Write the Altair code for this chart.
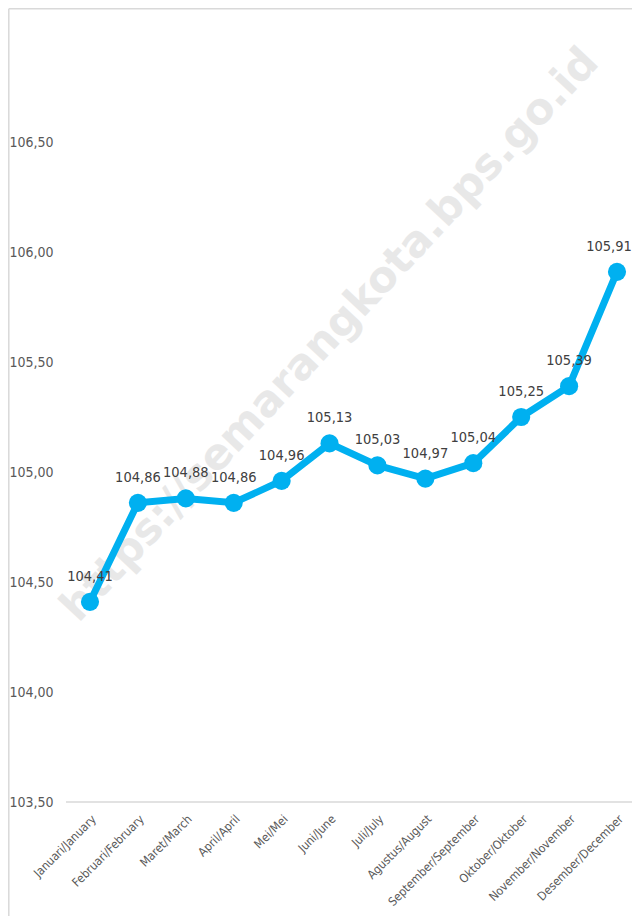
import altair as alt
import pandas as pd

months = ["Januari/January", "Februari/February", "Maret/March", "April/April",
          "Mei/Mei", "Juni/June", "Juli/July", "Agustus/August",
          "September/September", "Oktober/Oktober", "November/November",
          "Desember/December"]
values = [104.41, 104.86, 104.88, 104.86, 104.96, 105.13, 105.03, 104.97,
          105.04, 105.25, 105.39, 105.91]
y_ticks = [103.5, 104.0, 104.5, 105.0, 105.5, 106.0, 106.5]
watermark = "https://semarangkota.bps.go.id"

df = pd.DataFrame({"month": months, "value": values})
df["label"] = [f"{v:.2f}".replace(".", ",") for v in values]
df["last"] = [m == months[-1] for m in months]

FONT = "DejaVu Sans Condensed, DejaVu Sans, sans-serif"
BLUE = "#00B0F0"

x_enc = alt.X("month:N", sort=months, title=None,
              scale=alt.Scale(type="point", range=[24, 551], padding=0),
              axis=alt.Axis(labelAngle=-45, labelFont=FONT, labelFontSize=12,
                            labelColor="#595959", ticks=False, domain=False,
                            labelPadding=11, labelAlign="right",
                            labelBaseline="top"))
y_enc = alt.Y("value:Q", title=None,
              scale=alt.Scale(domain=[103.5, 107.0], nice=False, zero=False),
              axis=alt.Axis(values=y_ticks, grid=False, domain=False,
                            ticks=False, tickSize=0, labelAlign="left",
                            labelPadding=57, labelFont=FONT, labelFontSize=14,
                            labelColor="#595959",
                            labelExpr="replace(format(datum.value, '.2f'), '.', ',')"))

base = alt.Chart(df)

wm = alt.Chart(pd.DataFrame({"t": [watermark]})).mark_text(
    font="DejaVu Sans", fontWeight="bold", fontSize=43, angle=313,
    color="#C8C8C8", opacity=0.4, align="center", baseline="middle"
).encode(text="t:N", x=alt.value(264), y=alt.value(303))

baseline = alt.Chart(pd.DataFrame({"a": [0]})).mark_rule(
    color="#D9D9D9", strokeWidth=1.5
).encode(y=alt.datum(103.5), x=alt.value(0), x2=alt.value(600))

line = base.mark_line(color=BLUE, strokeWidth=7).encode(x=x_enc, y=y_enc)
pts = base.mark_circle(color=BLUE, size=330, opacity=1).encode(x=x_enc, y=y_enc)
txt = base.transform_filter("!datum.last").mark_text(
    dy=-25, font=FONT, fontSize=14.5, color="#404040"
).encode(x=x_enc, y=y_enc, text="label:N")
txt_last = base.transform_filter("datum.last").mark_text(
    dy=-25, dx=-8, font=FONT, fontSize=14.5, color="#404040"
).encode(x=x_enc, y=y_enc, text="label:N")

frame_l = alt.Chart(pd.DataFrame({"a": [0]})).mark_rule(
    color="#D9D9D9", strokeWidth=1.5
).encode(x=alt.value(-57.2), y=alt.value(-23.2), y2=alt.value(900))
frame_t = alt.Chart(pd.DataFrame({"a": [0]})).mark_rule(
    color="#D9D9D9", strokeWidth=1.5
).encode(y=alt.value(-23.2), x=alt.value(-57.2), x2=alt.value(600))

chart = alt.layer(frame_l, frame_t, wm, baseline, line, pts, txt, txt_last).properties(
    width=566, height=770,
    autosize=alt.AutoSizeParams(type="none"),
    padding={"left": 58, "top": 24, "right": 0, "bottom": 114},
).configure_view(stroke=None)

chart.save("out.html", embed_options={"renderer": "svg", "actions": False})
